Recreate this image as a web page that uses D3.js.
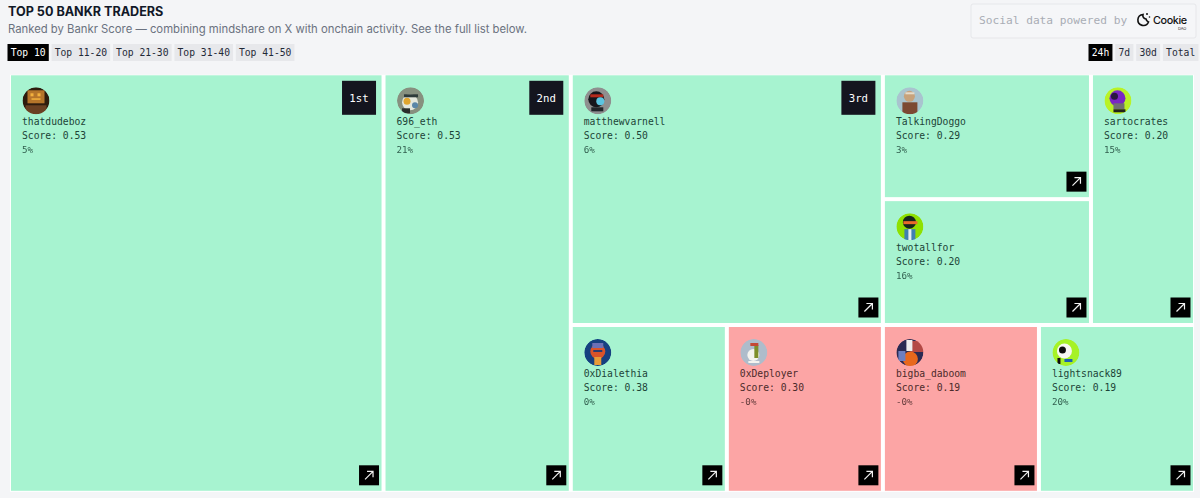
<!DOCTYPE html>
<html>
<head>
<meta charset="utf-8">
<script src="https://cdn.jsdelivr.net/npm/d3@7"></script>
<style>
  html, body { margin: 0; padding: 0; background: #f4f5f7; overflow: hidden; }
  svg { display: block; }
  .mono { font-family: "DejaVu Sans Mono", monospace; }
  .sans { font-family: Inter, sans-serif; }
</style>
</head>
<body>
<svg id="chart"></svg>
<script>
// Chart data
const traders = ["thatdudeboz", "696_eth", "matthewvarnell", "TalkingDoggo", "twotallfor", "sartocrates", "0xDialethia", "0xDeployer", "bigba_daboom", "lightsnack89"];
const scores = [0.53, 0.53, 0.50, 0.29, 0.20, 0.20, 0.38, 0.30, 0.19, 0.19];
const changes = ["5%", "21%", "6%", "3%", "16%", "15%", "0%", "-0%", "-0%", "20%"];
const negative = [false, false, false, false, false, false, false, true, true, false];
const weights = [6, 3, 3, 1, 1, 1, 1, 1, 1, 1];
const ranks = ["1st", "2nd", "3rd"];
const pageTabs = ["Top 10", "Top 11-20", "Top 21-30", "Top 31-40", "Top 41-50"];
const timeTabs = ["24h", "7d", "30d", "Total"];

const width = 1200;
const height = 498;

const svg = d3.select("#chart").attr("width", width).attr("height", height);

// Header
svg.append("text").attr("class", "sans").attr("x", 8).attr("y", 16)
  .style("font-size", "12.6px").style("font-weight", 700).attr("fill", "#111827")
  .text("TOP 50 BANKR TRADERS");
svg.append("text").attr("class", "sans").attr("x", 8).attr("y", 33)
  .style("font-size", "11.3px").attr("fill", "#6b7280")
  .text("Ranked by Bankr Score \u2014 combining mindshare on X with onchain activity. See the full list below.");

// Tabs, active one is the first of each group
const charW = 5.78;
function drawTabs(labels, startX, pad, gap) {
  let x = startX;
  labels.forEach((label, i) => {
    const w = label.length * charW + pad * 2;
    svg.append("rect").attr("x", x).attr("y", 44).attr("width", w).attr("height", 17)
      .attr("fill", i === 0 ? "#000" : "#e7e8eb");
    svg.append("text").attr("class", "mono").attr("x", x + w / 2).attr("y", 55.8)
      .attr("text-anchor", "middle").style("font-size", "9.7px")
      .attr("fill", i === 0 ? "#fff" : "#1f2937").text(label);
    x += w + gap;
  });
}
drawTabs(pageTabs, 7.5, 3.3, 2.8);
drawTabs(timeTabs, 1088.5, 3.3, 2.8);

// Social data box
svg.append("rect").attr("x", 971).attr("y", 4).attr("width", 225).attr("height", 34).attr("rx", 2)
  .attr("fill", "#f5f6f8").attr("stroke", "#e6e7ea");
svg.append("text").attr("class", "mono").attr("x", 979).attr("y", 24)
  .style("font-size", "11.2px").attr("fill", "#a9adb5").text("Social data powered by");
// Cookie logo
const logo = svg.append("g").attr("transform", "translate(1136,11)");
logo.append("path").attr("d", "M7 3.5 A5.5 5.5 0 1 0 12.5 11 A4 4 0 0 1 10 8 A3.5 3.5 0 0 1 7 3.5 Z")
  .attr("fill", "none").attr("stroke", "#111").attr("stroke-width", 1.6);
logo.append("circle").attr("cx", 11).attr("cy", 3).attr("r", 1).attr("fill", "#111");
logo.append("circle").attr("cx", 13.5).attr("cy", 6).attr("r", 0.8).attr("fill", "#111");
logo.append("text").attr("class", "sans").attr("x", 17).attr("y", 13)
  .style("font-size", "10.8px").style("font-weight", 500).style("letter-spacing", "-0.4px").attr("fill", "#111").text("Cookie");
logo.append("text").attr("class", "sans").attr("x", 42).attr("y", 18.5)
  .style("font-size", "4px").attr("fill", "#333").text("DAO");

// Treemap tree, grouped the way the squares fall in the original
const leaf = i => ({ index: i, weight: weights[i] });
const tree = {
  children: [
    leaf(0),
    leaf(1),
    { children: [
      { children: [leaf(2), { children: [leaf(3), leaf(4)] }, leaf(5)] },
      { children: [leaf(6), leaf(7), leaf(8), leaf(9)] }
    ] }
  ]
};

const root = d3.hierarchy(tree).sum(d => d.weight || 0);

d3.treemap()
  .size([1182, 415.5])
  .paddingInner(4)
  .tile((node, x0, y0, x1, y1) => {
    (node.depth % 2 ? d3.treemapSlice : d3.treemapDice)(node, x0, y0, x1, y1);
  })(root);

const map = svg.append("g").attr("transform", "translate(11,75.3)");

// White gutters between the cells
map.append("rect").attr("x", -1).attr("y", -0.5).attr("width", 1184).attr("height", 417).attr("fill", "#fff");

const cells = map.selectAll("g.cell")
  .data(root.leaves())
  .enter()
  .append("g")
  .attr("class", "cell")
  .attr("transform", d => `translate(${d.x0},${d.y0})`);

cells.append("rect")
  .attr("width", d => d.x1 - d.x0)
  .attr("height", d => d.y1 - d.y0)
  .attr("fill", d => negative[d.data.index] ? "#fca5a5" : "#a7f3d0");

// Small avatars, sketched from simple shapes on a 27px circle
const avatars = [
  [["c", 13.5, 13.5, 13.5, "#2f1c10"], ["r", 5, 3, 17, 13, "#b5752c"], ["r", 8, 6, 3, 3, "#f3b13c"], ["r", 15, 6, 3, 3, "#f3b13c"], ["r", 9, 11, 9, 1.5, "#f3b13c"], ["r", 3, 18, 21, 9, "#6b4120"]],
  [["c", 13.5, 13.5, 13.5, "#87907f"], ["c", 13, 15, 8, "#e4e7dc"], ["c", 10, 14, 3.5, "#e0a52e"], ["r", 7, 7, 14, 3, "#2e3a3a"], ["r", 5, 21, 8, 5, "#2a2f2c"], ["c", 18, 18, 3, "#5a86a8"]],
  [["c", 13.5, 13.5, 13.5, "#8f8f8f"], ["c", 12, 12, 8, "#17191c"], ["r", 6, 7, 13, 3, "#b5291f"], ["c", 16, 14, 4, "#5cc4e0"], ["r", 7, 20, 12, 4, "#20262a"]],
  [["c", 13.5, 13.5, 13.5, "#a9c4cf"], ["c", 13, 9, 5.5, "#c7a27c"], ["r", 6, 15, 15, 12, "#7c4a30"], ["r", 9, 5, 9, 2, "#e6dccb"]],
  [["c", 13.5, 13.5, 13.5, "#8fe000"], ["c", 13, 9, 6.5, "#17281a"], ["r", 7, 8, 14, 3, "#e86a2c"], ["r", 8, 16, 11, 11, "#3f7fb0"], ["r", 12, 16, 3, 11, "#e5edf0"]],
  [["c", 13.5, 13.5, 13.5, "#b9f227"], ["c", 13, 11, 8, "#7a25c4"], ["c", 10, 9, 3.5, "#2a1240"], ["r", 9, 16, 11, 6, "#6f6f72"], ["r", 9, 22, 12, 3, "#20211c"]],
  [["c", 13.5, 13.5, 13.5, "#123f80"], ["c", 13.5, 12.5, 7.5, "#d9532c"], ["r", 8, 4, 11, 5, "#6d6fb5"], ["r", 9, 11, 9, 2, "#2a3a70"], ["r", 10, 18, 7, 8, "#e89c38"]],
  [["c", 13.5, 13.5, 13.5, "#aebccb"], ["c", 13, 16, 6, "#f4f4ef"], ["r", 14, 6, 4, 13, "#7d8f2c"], ["r", 10, 4, 8, 3, "#c44a35"], ["r", 8, 22, 11, 2, "#f4f4ef"]],
  [["c", 13.5, 13.5, 13.5, "#2b2a52"], ["r", 14, 2, 13, 11, "#b34a45"], ["r", 10, 1, 6, 11, "#eeeeee"], ["c", 14, 20, 7.5, "#e8671f"], ["r", 2, 12, 7, 10, "#6d7fc0"]],
  [["c", 13.5, 13.5, 13.5, "#a6f227"], ["c", 12, 12, 7.5, "#f7f7f2"], ["c", 10, 11, 3.5, "#111"], ["r", 12, 20, 8, 3, "#1f5fb5"], ["r", 5, 19, 3, 6, "#111"]]
];

const defs = svg.append("defs");
defs.append("clipPath").attr("id", "avatar-clip").append("circle").attr("cx", 13.5).attr("cy", 13.5).attr("r", 13.5);
defs.append("filter").attr("id", "soft").append("feGaussianBlur").attr("stdDeviation", 0.6);

const avatar = cells.append("g")
  .attr("transform", "translate(11.5,12)")
  .attr("clip-path", "url(#avatar-clip)")
  .append("g")
  .attr("filter", "url(#soft)");

avatar.each(function(d) {
  const g = d3.select(this);
  avatars[d.data.index].forEach(s => {
    if (s[0] === "c") {
      g.append("circle").attr("cx", s[1]).attr("cy", s[2]).attr("r", s[3]).attr("fill", s[4]);
    } else {
      g.append("rect").attr("x", s[1]).attr("y", s[2]).attr("width", s[3]).attr("height", s[4]).attr("fill", s[5]);
    }
  });
});

// Text lines
const textCol = d => negative[d.data.index] ? "#4b2a2a" : "#1c4437";

cells.append("text").attr("class", "mono").attr("x", 11).attr("y", 49.8)
  .style("font-size", "9.7px").attr("fill", textCol)
  .text(d => traders[d.data.index]);
cells.append("text").attr("class", "mono").attr("x", 11).attr("y", 63.8)
  .style("font-size", "9.7px").attr("fill", textCol)
  .text(d => "Score: " + scores[d.data.index].toFixed(2));
cells.append("text").attr("class", "mono").attr("x", 11).attr("y", 77.8)
  .style("font-size", "9.2px").attr("fill", textCol).attr("opacity", 0.85)
  .text(d => changes[d.data.index]);

// Rank badges on the top three
const badged = cells.filter(d => d.data.index < ranks.length);
badged.append("rect")
  .attr("x", d => d.x1 - d.x0 - 39.5).attr("y", 5.5)
  .attr("width", 34).attr("height", 34).attr("fill", "#14151f");
badged.append("text").attr("class", "mono")
  .attr("x", d => d.x1 - d.x0 - 22.5).attr("y", 26.5)
  .attr("text-anchor", "middle").style("font-size", "10.7px").attr("fill", "#fff")
  .text(d => ranks[d.data.index]);

// Arrow link buttons
const link = cells.append("g")
  .attr("transform", d => `translate(${d.x1 - d.x0 - 22.5},${d.y1 - d.y0 - 25.5})`);
link.append("rect").attr("width", 20).attr("height", 20).attr("fill", "#000");
link.append("path").attr("d", "M6 14 L14 6 M8 6 L14 6 L14 12")
  .attr("fill", "none").attr("stroke", "#f2f2f2").attr("stroke-width", 1.2);
</script>
</body>
</html>
